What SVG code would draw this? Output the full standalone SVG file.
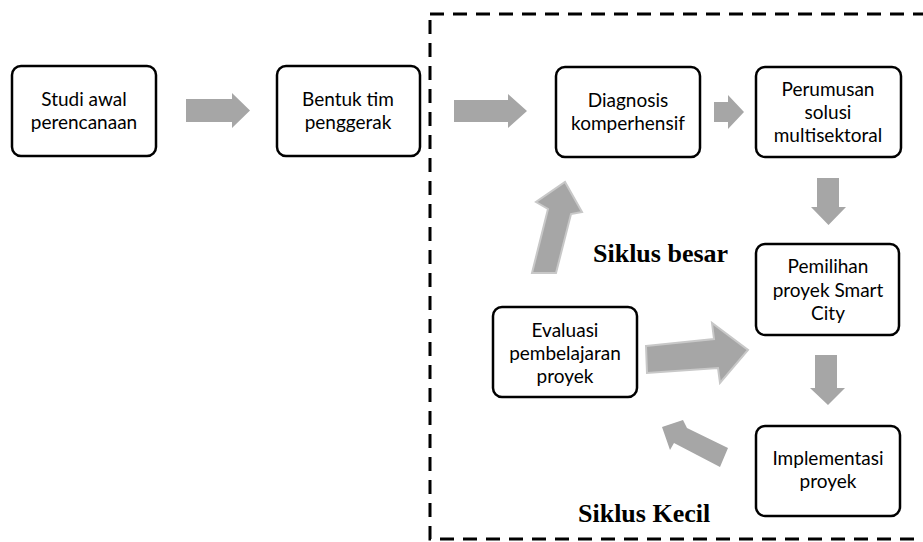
<svg xmlns="http://www.w3.org/2000/svg" width="923" height="542" viewBox="0 0 923 542">
<style>
.box{fill:#fff;stroke:#000;stroke-width:2.5}
.t{font-family:"Lato","Liberation Sans",sans-serif;font-size:19px;fill:#000;text-anchor:middle}
.lbl{font-family:"Liberation Serif",serif;font-size:26px;font-weight:bold;fill:#000}
.arr{fill:#a6a6a6}
.arr3{fill:#a6a6a6;stroke:#c8c8c8;stroke-width:2;stroke-linejoin:miter}
</style>
<rect x="430" y="14" width="520" height="525" fill="none" stroke="#000" stroke-width="3" stroke-dasharray="14 9"/>
<g id="n1"><rect class="box" x="12" y="66" width="144" height="90" rx="9"/><text class="t" x="84" y="106">Studi awal</text><text class="t" x="84" y="129">perencanaan</text></g>
<g id="n2"><rect class="box" x="277" y="66" width="143" height="90" rx="9"/><text class="t" x="348" y="106">Bentuk tim</text><text class="t" x="348" y="129">penggerak</text></g>
<g id="n3"><rect class="box" x="556" y="67" width="144" height="90" rx="9"/><text class="t" x="628" y="107">Diagnosis</text><text class="t" x="628" y="130">komperhensif</text></g>
<g id="n4"><rect class="box" x="756" y="67" width="145" height="90" rx="9"/><text class="t" x="828" y="96">Perumusan</text><text class="t" x="828" y="119">solusi</text><text class="t" x="828" y="142">multisektoral</text></g>
<g id="n5"><rect class="box" x="756" y="244" width="143" height="91" rx="9"/><text class="t" x="828" y="273">Pemilihan</text><text class="t" x="828" y="297">proyek Smart</text><text class="t" x="828" y="320">City</text></g>
<g id="n6"><rect class="box" x="756" y="426" width="144" height="90" rx="9"/><text class="t" x="828" y="465">Implementasi</text><text class="t" x="828" y="488">proyek</text></g>
<g id="n7"><rect class="box" x="493" y="307" width="144" height="90" rx="9"/><text class="t" x="565" y="337">Evaluasi</text><text class="t" x="565" y="360">pembelajaran</text><text class="t" x="565" y="383">proyek</text></g>
<g id="connectors">
<polygon class="arr" points="186,99 232,99 232,93 250,110.5 232,128 232,122 186,122"/>
<polygon class="arr" points="454,100 508,100 508,94 527,111 508,128 508,122 454,122"/>
<polygon class="arr" points="714,102 728,102 728,95 744,112 728,129 728,122 714,122"/>
<polygon class="arr" points="817,178 839,178 839,207 846,207 828.5,225 811,207 817,207"/>
<polygon class="arr" points="815,355 837,355 837,388 845,388 828,405 810,388 815,388"/>
<polygon class="arr3" points="646,346 714,339 712,323 748,350 720,383 718,368 647,373"/>
<polygon class="arr3" points="532,273 548,209 536,202 565,182 582,212 571,214 556,273"/>
<polygon class="arr" points="728,448 687,428 683,420 662,427 670,450 674,443 720,467"/>
<text class="lbl" x="593" y="262">Siklus besar</text>
<text class="lbl" x="578" y="522">Siklus Kecil</text>
</g>
</svg>
